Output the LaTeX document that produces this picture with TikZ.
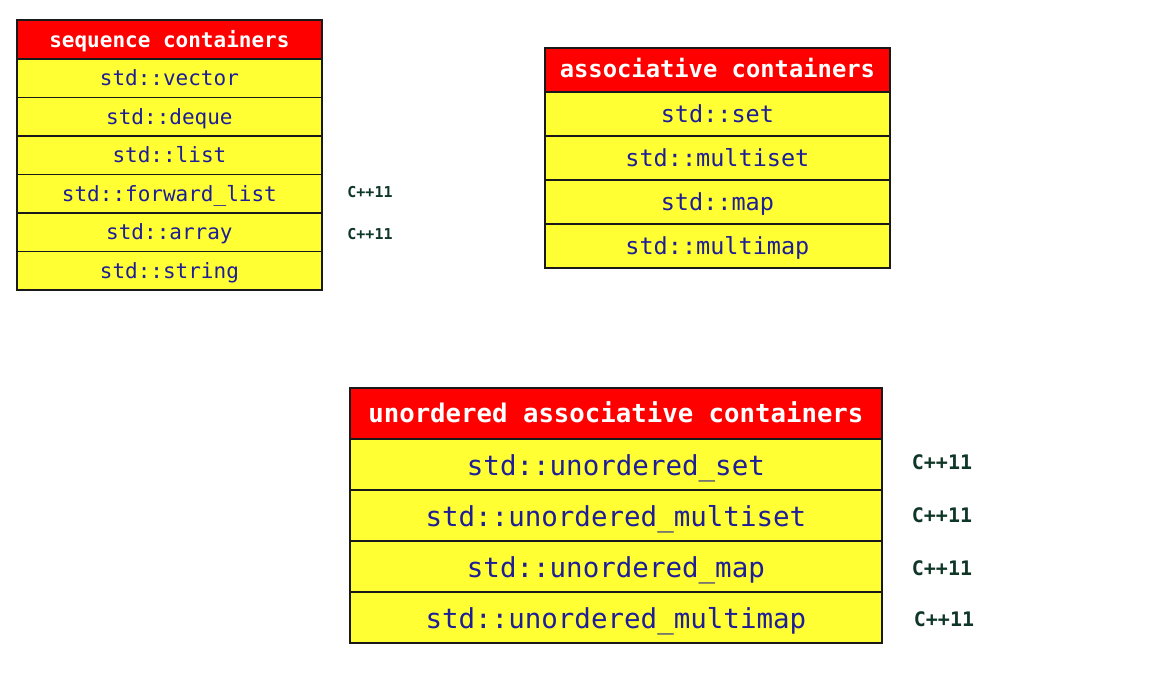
\documentclass[tikz,border=0pt]{standalone}
\usepackage{fontspec}
\newfontfamily\codefont{DejaVu Sans Mono}
\definecolor{hdrred}{RGB}{255,0,0}
\definecolor{rowyellow}{RGB}{255,255,51}
\definecolor{codeblue}{RGB}{30,30,150}
\definecolor{tagGreen}{RGB}{15,55,40}
\definecolor{edge}{RGB}{25,25,25}
\tikzset{
  cell/.style={draw=edge, line width=1.8pt, anchor=north west, inner sep=0pt, font=\codefont},
  hdr/.style={cell, fill=hdrred, text=white},
  row/.style={cell, fill=rowyellow, text=codeblue},
  tag/.style={text=tagGreen, inner sep=0pt},
  seqf/.style={font=\codefont\fontsize{21}{25}\selectfont, text height=18pt, text depth=3pt},
  seqh/.style={font=\codefont\bfseries\fontsize{21}{25}\selectfont, text height=19.5pt, text depth=2.5pt},
  assf/.style={font=\codefont\fontsize{23.5}{28}\selectfont, text height=21pt, text depth=3pt},
  assh/.style={font=\codefont\bfseries\fontsize{23.8}{28}\selectfont, text height=19pt, text depth=3pt},
  unof/.style={font=\codefont\fontsize{27.5}{32}\selectfont, text height=25pt, text depth=3pt},
  unoh/.style={font=\codefont\bfseries\fontsize{25.7}{30}\selectfont, text height=22pt, text depth=3pt}
}
\begin{document}
\begin{tikzpicture}[x=1pt,y=-1pt]
\useasboundingbox[fill=white] (0,0) rectangle (1152,689);
% sequence containers
\begin{scope}[every node/.append style={minimum width=305pt, minimum height=38.5pt}]
\node[hdr, seqh] (sh) at (16,19) {sequence containers};
\node[row, seqf] (s1) at (16,58) {std::vector};
\node[row, seqf] (s2) at (16,96.5) {std::deque};
\node[row, seqf] (s3) at (16,135) {std::list};
\node[row, seqf] (s4) at (16,173.5) {std::forward\_list};
\node[row, seqf] (s5) at (16,212) {std::array};
\node[row, seqf] (s6) at (16,250.5) {std::string};
\end{scope}
\node[tag, font=\codefont\bfseries\fontsize{15}{18}\selectfont] (t1) at (370,192) {C++11};
\node[tag, font=\codefont\bfseries\fontsize{15}{18}\selectfont] (t2) at (370,234) {C++11};
% associative containers
\begin{scope}[every node/.append style={minimum width=345pt, minimum height=44pt}]
\node[hdr, assh] (ah) at (544,47) {associative containers};
\node[row, assf] (a1) at (544,91) {std::set};
\node[row, assf] (a2) at (544,135) {std::multiset};
\node[row, assf] (a3) at (544,179) {std::map};
\node[row, assf] (a4) at (544,223) {std::multimap};
\end{scope}
% unordered associative containers
\begin{scope}[every node/.append style={minimum width=532pt, minimum height=51pt}]
\node[hdr, unoh] (uh) at (349,387) {unordered associative containers};
\node[row, unof] (u1) at (349,438) {std::unordered\_set};
\node[row, unof] (u2) at (349,489) {std::unordered\_multiset};
\node[row, unof] (u3) at (349,540) {std::unordered\_map};
\node[row, unof] (u4) at (349,591) {std::unordered\_multimap};
\end{scope}
\node[tag, font=\codefont\bfseries\fontsize{20}{24}\selectfont] (t3) at (942,462) {C++11};
\node[tag, font=\codefont\bfseries\fontsize{20}{24}\selectfont] (t4) at (942,515) {C++11};
\node[tag, font=\codefont\bfseries\fontsize{20}{24}\selectfont] (t5) at (942,568) {C++11};
\node[tag, font=\codefont\bfseries\fontsize{20}{24}\selectfont] (t6) at (944,619) {C++11};
\end{tikzpicture}
\end{document}
